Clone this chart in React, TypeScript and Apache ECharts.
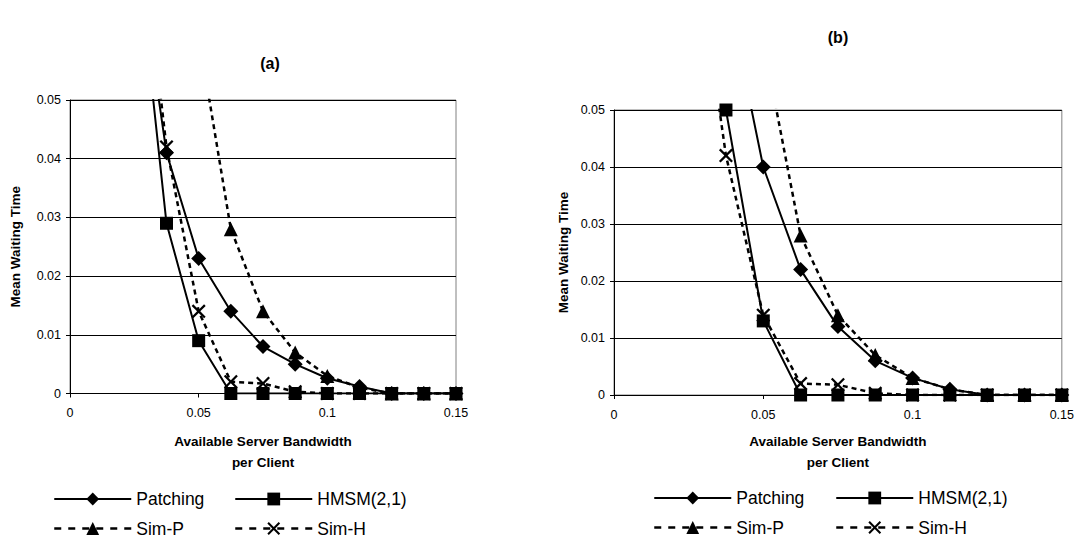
import React, { useEffect, useRef } from "react";
import * as echarts from "echarts";

const xValues = [0.025, 0.0375, 0.05, 0.0625, 0.075, 0.0875, 0.1, 0.1125, 0.125, 0.1375, 0.15];

const patchingA = [0.079, 0.041, 0.023, 0.014, 0.008, 0.005, 0.0026, 0.0012, 0, 0, 0];
const hmsmA = [0.08, 0.029, 0.009, 0, 0, 0, 0, 0, 0, 0, 0];
const simPA = [null, null, 0.061, 0.028, 0.014, 0.007, 0.003, 0.001, 0, 0, 0];
const simHA = [0.089, 0.042, 0.014, 0.002, 0.0017, 0.0003, 0, 0, 0, 0, 0];

const patchingB = [null, 0.072, 0.04, 0.022, 0.012, 0.006, 0.003, 0.001, 0, 0, 0];
const hmsmB = [null, 0.05, 0.013, 0, 0, 0, 0, 0, 0, 0, 0];
const simPB = [null, null, 0.062, 0.028, 0.014, 0.007, 0.003, 0.001, 0, 0, 0];
const simHB = [0.088, 0.042, 0.014, 0.002, 0.0018, 0.0003, 0, 0, 0, 0, 0];

const seriesNames = ["Patching", "HMSM(2,1)", "Sim-P", "Sim-H"];
const yTicks = { min: 0, max: 0.05, interval: 0.01 };
const xTicks = { min: 0, max: 0.15, interval: 0.05 };

const FONT = "'Liberation Sans', Arial, sans-serif";
const X_SYMBOL =
  "path://M0,1.6 L1.6,0 L7,5.4 L12.4,0 L14,1.6 L8.6,7 L14,12.4 L12.4,14 L7,8.6 L1.6,14 L0,12.4 L5.4,7 Z";

function pairs(vals: (number | null)[]) {
  const out: [number, number][] = [];
  vals.forEach((v, i) => {
    if (v !== null) out.push([xValues[i], v]);
  });
  return out;
}

function makeSeries(idx: number, p: any[], h: any[], sp: any[], sh: any[]) {
  const base = {
    type: "line",
    xAxisIndex: idx,
    yAxisIndex: idx,
    clip: true,
    color: "#000",
    itemStyle: { color: "#000" },
  };
  return [
    {
      ...base,
      name: "Patching",
      data: pairs(p),
      symbol: "diamond",
      symbolSize: 15,
      lineStyle: { color: "#000", width: 2 },
      z: 3,
    },
    {
      ...base,
      name: "Sim-P",
      data: pairs(sp),
      symbol: "triangle",
      symbolSize: 14,
      lineStyle: { color: "#000", width: 2.5, type: [5, 4] },
      z: 4,
    },
    {
      ...base,
      name: "Sim-H",
      data: pairs(sh),
      symbol: X_SYMBOL,
      symbolSize: 14,
      lineStyle: { color: "#000", width: 2.5, type: [5, 4] },
      z: 5,
    },
    {
      ...base,
      name: "HMSM(2,1)",
      data: pairs(h),
      symbol: "rect",
      symbolSize: 13,
      lineStyle: { color: "#000", width: 2 },
      z: 6,
    },
  ];
}

function xAxis(idx: number, gap: number) {
  return {
    type: "value",
    gridIndex: idx,
    ...xTicks,
    name: "Available Server Bandwidth\nper Client",
    nameLocation: "middle",
    nameGap: gap,
    nameTextStyle: { fontFamily: FONT, fontSize: 13.5, fontWeight: "bold", color: "#000", lineHeight: 21 },
    axisLine: { show: true, onZero: false, lineStyle: { color: "#000", width: 1 } },
    axisTick: { show: true, length: 4, lineStyle: { color: "#000" } },
    axisLabel: {
      fontFamily: FONT,
      fontSize: 12.5,
      color: "#000",
      margin: 13,
      formatter: (v: number) => String(+v.toFixed(3)),
    },
    splitLine: { show: false },
  };
}

function yAxis(idx: number, gap: number) {
  return {
    type: "value",
    gridIndex: idx,
    ...yTicks,
    name: "Mean Waiting Time",
    nameLocation: "middle",
    nameGap: gap,
    nameTextStyle: { fontFamily: FONT, fontSize: 13.5, fontWeight: "bold", color: "#000" },
    axisLine: { show: true, lineStyle: { color: "#000", width: 1 } },
    axisTick: { show: true, length: 4, lineStyle: { color: "#000" } },
    axisLabel: {
      fontFamily: FONT,
      fontSize: 12.5,
      color: "#000",
      margin: 9,
      formatter: (v: number) => (v === 0 ? "0" : v.toFixed(2)),
    },
    splitLine: { show: true, lineStyle: { color: "#000", width: 1 } },
  };
}

function legend(left: number, top: number, names: string[]) {
  return {
    orient: "vertical",
    left,
    top,
    padding: 0,
    itemWidth: 77,
    itemHeight: 16,
    itemGap: 11.5,
    selectedMode: false,
    data: names.map((n) =>
      n.startsWith("Sim") ? { name: n, lineStyle: { type: [7, 7], width: 2.5 } } : { name: n }
    ),
    textStyle: { fontFamily: FONT, fontSize: 17.5, color: "#000" },
  };
}

export default function App() {
  const ref = useRef<HTMLDivElement>(null);
  useEffect(() => {
    if (!ref.current) return;
    const chart = echarts.init(ref.current, null, { renderer: "svg" });
    chart.setOption({
      animation: false,
      backgroundColor: "#fff",
      graphic: [
        {
          type: "text",
          x: 270,
          y: 63,
          style: { text: "(a)", font: `bold 16px ${FONT}`, fill: "#000", textAlign: "center", textVerticalAlign: "middle" },
        },
        {
          type: "text",
          x: 838,
          y: 37,
          style: { text: "(b)", font: `bold 16px ${FONT}`, fill: "#000", textAlign: "center", textVerticalAlign: "middle" },
        },
      ],
      grid: [
        { left: 70, top: 100, width: 386, height: 293.5, show: true, borderColor: "#808080", borderWidth: 1 },
        { left: 614, top: 110, width: 451, height: 285, show: true, borderColor: "#808080", borderWidth: 1 },
      ],
      xAxis: [xAxis(0, 37), xAxis(1, 36)],
      yAxis: [yAxis(0, 48), yAxis(1, 44)],
      legend: [
        legend(53, 490, [seriesNames[0], seriesNames[2]]),
        legend(234, 490, [seriesNames[1], seriesNames[3]]),
        legend(653, 489, [seriesNames[0], seriesNames[2]]),
        legend(835, 489, [seriesNames[1], seriesNames[3]]),
      ],
      series: [
        ...makeSeries(0, patchingA, hmsmA, simPA, simHA),
        ...makeSeries(1, patchingB, hmsmB, simPB, simHB),
      ],
    });
    return () => chart.dispose();
  }, []);
  return (
    <div
      ref={ref}
      style={{ position: "fixed", left: 0, top: 0, width: 1077, height: 542 }}
    />
  );
}
